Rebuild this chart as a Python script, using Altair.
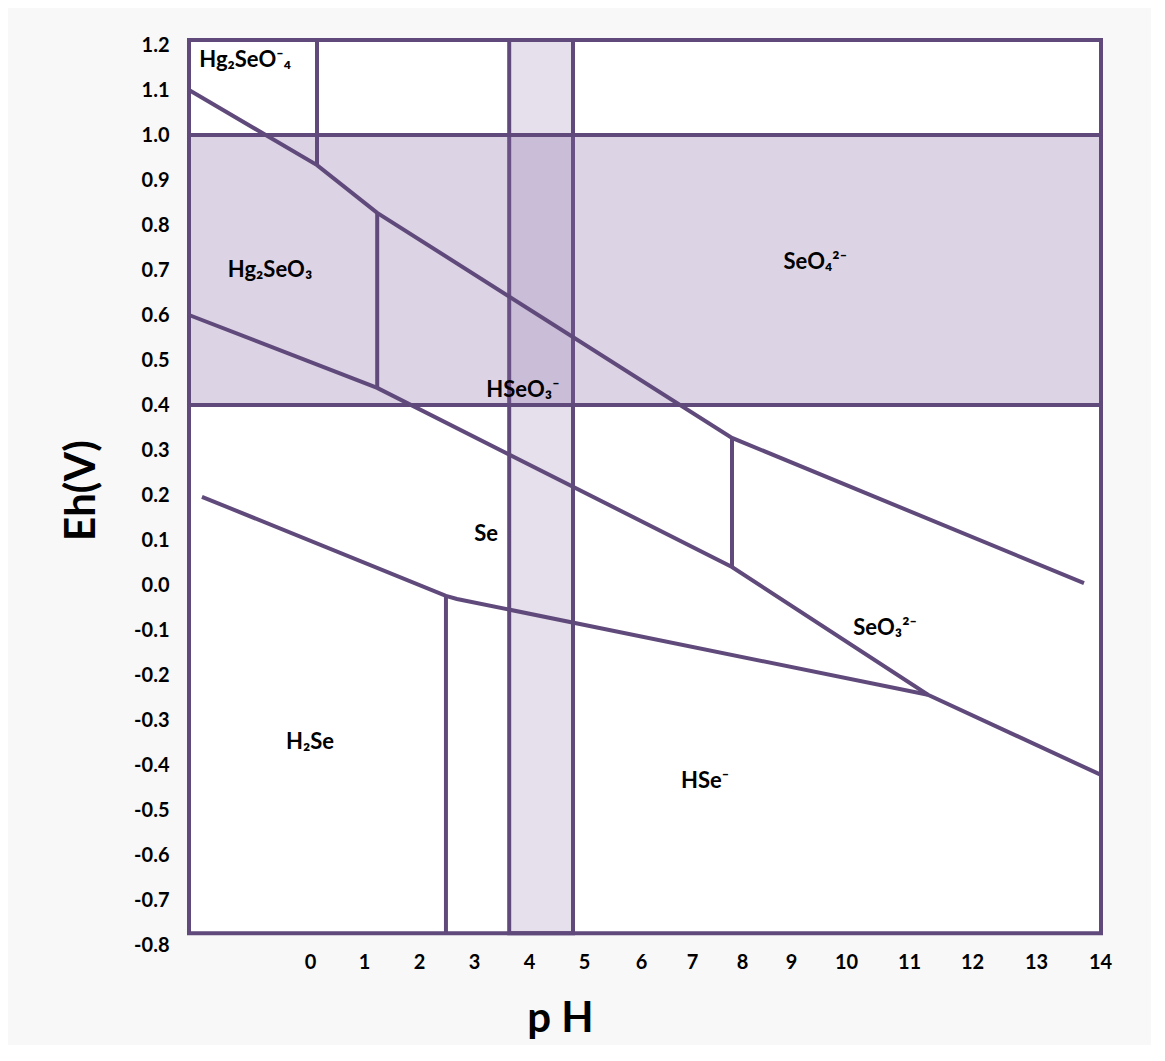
import altair as alt
import pandas as pd

# ---------------- data ----------------
ph_ticks = list(range(0, 15))
eh_ticks = [-0.8, -0.7, -0.6, -0.5, -0.4, -0.3, -0.2, -0.1, 0.0,
            0.1, 0.2, 0.3, 0.4, 0.5, 0.6, 0.7, 0.8, 0.9, 1.0, 1.1, 1.2]

# diagram boundary (frame)
frame_ph = [-2.24, 14.02]
frame_eh = [-0.774, 1.211]

# shaded bands
hband_eh = [0.4, 1.0]
vband_ph = [3.64, 4.8]

# sloping boundary lines
upper_ph = [-2.24, 0.13, 1.24, 7.8, 13.75]
upper_eh = [1.10, 0.933, 0.827, 0.327, 0.004]
middle_ph = [-2.24, 1.24, 7.8, 11.3, 14.02]
middle_eh = [0.60, 0.438, 0.04, -0.244, -0.422]
lower_ph = [-2.0, 2.49, 2.69, 11.3]
lower_eh = [0.196, -0.024, -0.031, -0.244]

# vertical boundary segments
vert_ph = [0.13, 1.24, 2.49, 7.8]
vert_top = [1.211, 0.827, -0.024, 0.327]
vert_bot = [0.933, 0.438, -0.774, 0.04]

# species labels
labels = ["Hg\u2082SeO\u207b\u2084", "Hg\u2082SeO\u2083", "SeO\u2084\u00b2\u207b", "HSeO\u2083\u207b",
          "Se", "SeO\u2083\u00b2\u207b", "H\u2082Se", "HSe\u207b"]
label_ph = [-1.2, -0.74, 9.44, 3.89, 3.22, 10.62, 0.0, 7.26]
label_eh = [1.167, 0.70, 0.718, 0.433, 0.113, -0.096, -0.349, -0.436]

# ---------------- tables ----------------
frame_df = pd.DataFrame({"ph": [frame_ph[0]], "ph2": [frame_ph[1]],
                         "eh": [frame_eh[0]], "eh2": [frame_eh[1]]})
hband_df = pd.DataFrame({"ph": [frame_ph[0]], "ph2": [frame_ph[1]],
                         "eh": [hband_eh[0]], "eh2": [hband_eh[1]]})
vband_df = pd.DataFrame({"ph": [vband_ph[0]], "ph2": [vband_ph[1]],
                         "eh": [frame_eh[0]], "eh2": [frame_eh[1]]})
rows = []
for name, xs, ys in [("upper", upper_ph, upper_eh), ("middle", middle_ph, middle_eh),
                     ("lower", lower_ph, lower_eh)]:
    for i, (a, b) in enumerate(zip(xs, ys)):
        rows.append({"line": name, "seq": i, "ph": a, "eh": b})
lines_df = pd.DataFrame(rows)
vert_df = pd.DataFrame({"ph": vert_ph, "eh": vert_top, "eh2": vert_bot})
text_df = pd.DataFrame({"label": labels, "ph": label_ph, "eh": label_eh})

# ---------------- scales / axes ----------------
PURPLE = "#604A7B"
FONT = "Lato"
ph_breaks = [frame_ph[0]] + ph_ticks + [frame_ph[1]]
x_range = [0, 121, 175, 230, 285, 340, 395, 452, 503, 553, 602, 657, 720, 783, 847, 911, 912]
xscale = alt.Scale(domain=ph_breaks, range=x_range, nice=False, zero=False)
yscale = alt.Scale(domain=[-0.8, 1.2], nice=False, zero=False)

xaxis = alt.Axis(values=ph_ticks, format="d", title="p H", grid=False, ticks=False, domain=False,
                 labelFont=FONT, labelFontWeight="bold", labelFontSize=20, labelColor="black",
                 labelPadding=7, labelOverlap=False, labelFlush=False,
                 titleFont=FONT, titleFontSize=42, titleFontWeight="bold", titleColor="black",
                 titleX=371, titleY=73, titleBaseline="middle", titleAlign="center")
yaxis = alt.Axis(values=eh_ticks, format=".1f", title="Eh(V)", grid=False, ticks=False, domain=False,
                 labelExpr="replace(datum.label, '\u2212', '-')",
                 labelFont=FONT, labelFontWeight="bold", labelFontSize=20, labelColor="black",
                 labelPadding=20, labelOverlap=False, labelFlush=False,
                 titleFont=FONT, titleFontSize=42, titleFontWeight="bold", titleColor="black",
                 titleX=-108, titleY=445, titleAngle=270, titleBaseline="middle", titleAlign="center")


def X(f="ph"):
    return alt.X(f + ":Q", scale=xscale, axis=xaxis)


def Y(f="eh"):
    return alt.Y(f + ":Q", scale=yscale, axis=yaxis)


frame_fill = alt.Chart(frame_df).mark_rect(fill="white", strokeWidth=0).encode(
    x=X(), x2="ph2", y=Y(), y2="eh2")
vband = alt.Chart(vband_df).mark_rect(fill="#E6E0EC", stroke=PURPLE, strokeWidth=4).encode(
    x=X(), x2="ph2", y=Y(), y2="eh2")
hband = alt.Chart(hband_df).mark_rect(fill="#8064A2", fillOpacity=0.28, stroke=PURPLE,
                                      strokeWidth=4).encode(
    x=X(), x2="ph2", y=Y(), y2="eh2")
verts = alt.Chart(vert_df).mark_rule(color=PURPLE, strokeWidth=4).encode(
    x=X(), y=Y(), y2="eh2")
lines = alt.Chart(lines_df).mark_line(color=PURPLE, strokeWidth=4, strokeJoin="miter").encode(
    x=X(), y=Y(), detail="line:N", order="seq:Q")
frame_stroke = alt.Chart(frame_df).mark_rect(fillOpacity=0, stroke=PURPLE, strokeWidth=4).encode(
    x=X(), x2="ph2", y=Y(), y2="eh2")
texts = alt.Chart(text_df).mark_text(font=FONT, fontWeight="bold", fontSize=22, color="black",
                                     align="center", baseline="middle").encode(
    x=X(), y=Y(), text="label:N")

chart = alt.layer(frame_fill, vband, hband, verts, lines, frame_stroke, texts).properties(
    width=912, height=900,
    padding={"left": 181, "top": 37, "right": 50, "bottom": 100},
    autosize=alt.AutoSizeParams(type="none"),
    background="#f8f8f8",
).configure_view(stroke=None)

chart.save("out.html", embed_options={"renderer": "svg", "actions": False})
